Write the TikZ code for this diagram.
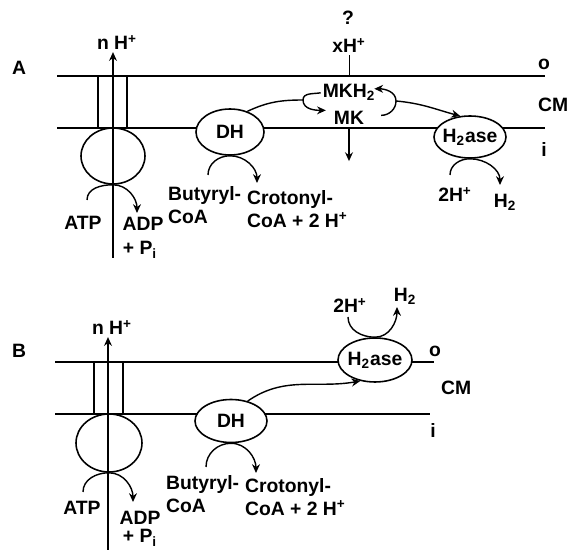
\documentclass[tikz,border=0pt]{standalone}
\usepackage{fontspec}
\setmainfont{Liberation Sans}
\usetikzlibrary{arrows.meta,positioning,calc,shapes.geometric}

\begin{document}
\begin{tikzpicture}[x=0.02cm,y=0.02cm,>={Stealth[length=5pt,width=4.5pt]},
 font=\fontsize{11}{13.5}\selectfont\bfseries,
 memb/.style={line width=0.9pt},
 enz/.style={draw,ellipse,fill=white,line width=0.9pt,inner sep=-4pt},
 rxn/.style={->,line width=0.8pt},
 lbl/.style={inner sep=1pt,anchor=base},
 two/.style={inner sep=1pt,anchor=north west,align=left}]
\useasboundingbox (0,0) rectangle (569,-550);

% ---------- A: MK / H2ase in the membrane ----------
\node[lbl] (pa) at (19,-75) {A};
\coordinate (oa1) at (57,-76); \coordinate (oa2) at (545,-76);
\draw[memb] (oa1) -- (oa2);
\draw[memb] (57,-128) -- (545,-128);
\node[lbl] (oa) at (544,-70) {o};
\node[lbl,anchor=base west] (cma) at (536,-112) {CM};
\node[lbl] (ia) at (544,-157) {i};
% ATP synthase
\draw[memb] (98,-76) -- (98,-128) (127,-76) -- (127,-128);
\node[enz,minimum width=1.28cm,minimum height=1.12cm] (f1a) at (113,-156) {};
\node[lbl] (nha) at (117,-50) {n H\textsuperscript{+}};
\coordinate (pina) at (113,-258);
\draw[rxn] (pina) -- (pina |- nha.south);
\node[lbl] (atpa) at (83,-230) {ATP};
\node[lbl] (adpa) at (143,-231) {ADP};
\node[lbl] (pia) at (140,-255) {+ P\textsubscript{i}};
\draw[rxn] ($(atpa.base)+(4,30)$) to[out=90,in=180] (f1a.south)
  to[out=0,in=90] ($(adpa.base)+(-6,18)$);
% dehydrogenase
\node[enz,minimum width=1.36cm,minimum height=0.92cm] (dha) at (230,-132) {DH};
\node[two] (buta) at (166,-184) {Butyryl-\\CoA};
\node[two] (crota) at (245,-188) {Crotonyl-\\CoA + 2 H\textsuperscript{+}};
\draw[rxn] ($(buta.north west)+(42,9)$) to[out=90,in=180] (dha.south)
  to[out=0,in=90] ($(crota.north west)+(12,5)$);
% menaquinone cycle
\node[lbl] (mkha) at (349,-98) {MKH\textsubscript{2}};
\node[lbl] (mka) at (349,-125) {MK};
\coordinate (mkl) at (303,-100);
\coordinate (mkr) at (396,-101);
\draw[line width=0.8pt] (dha.50) to[out=25,in=180] (mkl);
\draw[rxn] (mkha.west) to[out=190,in=90] (mkl)
  to[out=-90,in=180] ($(mka.west)+(-6,8)$);
\draw[rxn] ($(mka.east)+(15,3)$) to[out=0,in=-90] (mkr)
  to[out=90,in=0] ($(mkha.east)+(-3,4)$);
\node[lbl] (qa) at (348,-25) {?};
\node[lbl] (xha) at (349,-53) {xH\textsuperscript{+}};
\draw[line width=0.5pt] (xha.south) -- (xha.south |- oa1);
\draw[rxn] (mka.south) -- ++(0,-34);
% hydrogenase
\node[enz,minimum width=1.44cm,minimum height=0.84cm] (h2a) at (470,-137) {H\textsubscript{2}ase};
\draw[rxn] (mkr) to[out=-5,in=165] (h2a.115);
\node[lbl] (h2ina) at (455,-202) {2H\textsuperscript{+}};
\node[lbl] (h2outa) at (505,-208) {H\textsubscript{2}};
\draw[rxn] ($(h2ina.base)+(-5,27)$) to[out=90,in=180] (h2a.south)
  to[out=0,in=90] ($(h2outa.base)+(-5,23)$);

% ---------- B: H2ase on the outside ----------
\node[lbl] (pb) at (19,-358) {B};
\draw[memb] (55,-362) -- (434,-362);
\draw[memb] (55,-414) -- (430,-414);
\node[lbl] (ob) at (435,-357) {o};
\node[lbl,anchor=base west] (cmb) at (439,-395) {CM};
\node[lbl] (ib) at (433,-438) {i};
% ATP synthase
\draw[memb] (94,-362) -- (94,-414) (123,-362) -- (123,-414);
\node[enz,minimum width=1.32cm,minimum height=1.16cm] (f1b) at (109,-443) {};
\node[lbl] (nhb) at (112,-335) {n H\textsuperscript{+}};
\coordinate (pinb) at (108,-550);
\draw[rxn] (pinb) -- (pinb |- nhb.south);
\node[lbl] (atpb) at (82,-515) {ATP};
\node[lbl] (adpb) at (140,-525) {ADP};
\node[lbl] (pib) at (140,-543) {+ P\textsubscript{i}};
\draw[rxn] ($(atpb.base)+(1,23)$) to[out=90,in=180] (f1b.south)
  to[out=0,in=90] ($(adpb.base)+(-7,23)$);
% dehydrogenase
\node[enz,minimum width=1.44cm,minimum height=0.86cm] (dhb) at (231,-421) {DH};
\node[two] (butb) at (164,-473) {Butyryl-\\CoA};
\node[two] (crotb) at (243,-476) {Crotonyl-\\CoA + 2 H\textsuperscript{+}};
\draw[rxn] ($(butb.north west)+(42,6)$) to[out=90,in=180] (dhb.south)
  to[out=0,in=90] ($(crotb.north west)+(13,3)$);
% hydrogenase
\node[enz,minimum width=1.48cm,minimum height=0.88cm] (h2b) at (375,-360) {H\textsubscript{2}ase};
\draw[rxn] (dhb.50) to[out=35,in=190] (h2b.235);
\node[lbl] (h2inb) at (350,-313) {2H\textsuperscript{+}};
\node[lbl] (h2outb) at (405,-302) {H\textsubscript{2}};
\draw[rxn] ($(h2inb.base)+(-2,-4)$) to[out=-90,in=180] (h2b.north)
  to[out=0,in=-90] ($(h2outb.base)+(-8,-5)$);
\end{tikzpicture}
\end{document}
